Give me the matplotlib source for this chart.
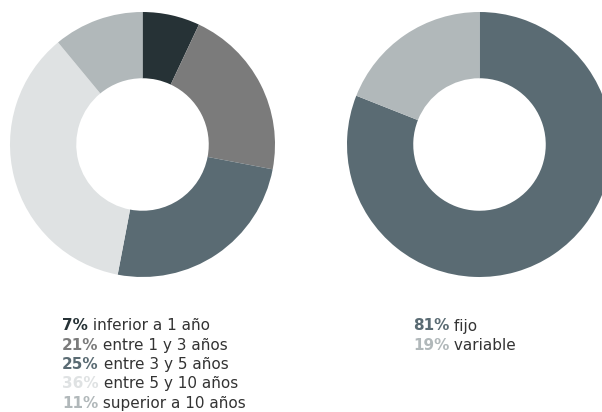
import matplotlib
matplotlib.use("Agg")
import matplotlib.pyplot as plt

# Plazo de la deuda
plazo_pct = [7, 21, 25, 36, 11]
plazo_labels = ["inferior a 1 año", "entre 1 y 3 años", "entre 3 y 5 años",
                "entre 5 y 10 años", "superior a 10 años"]
plazo_colors = ["#263236", "#7b7b7b", "#5a6b73", "#dfe2e3", "#b1b8ba"]

# Tipo de interés
tipo_pct = [81, 19]
tipo_labels = ["fijo", "variable"]
tipo_colors = ["#5a6b73", "#b1b8ba"]

W, H = 602, 412
fig = plt.figure(figsize=(W / 100, H / 100), dpi=100)


def donut(x0, y0, size, values, colors):
    # x0, y0 = pixel position of the top-left corner of the donut box
    ax = fig.add_axes([x0 / W, (H - y0 - size) / H, size / W, size / H])
    ax.pie(values, colors=colors, startangle=90, counterclock=False,
           radius=1, wedgeprops=dict(width=0.5, linewidth=0))
    ax.set_xlim(-1, 1)
    ax.set_ylim(-1, 1)
    ax.set_aspect("equal")
    ax.axis("off")


donut(10, 12, 265, plazo_pct, plazo_colors)
donut(347, 12, 265, tipo_pct, tipo_colors)


def legend(x, y, values, labels, colors, step=19.3):
    for i, (v, lab, c) in enumerate(zip(values, labels, colors)):
        t = fig.text(x / W, 1 - (y + i * step) / H, f"{v}%", color=c,
                     fontsize=11, fontweight="bold", va="center", ha="left")
        plt.annotate(" " + lab, xy=(1, 0.5), xycoords=t, va="center",
                     ha="left", fontsize=11, color="#333333",
                     annotation_clip=False)


legend(62, 326, plazo_pct, plazo_labels, plazo_colors)
legend(413, 326, tipo_pct, tipo_labels, tipo_colors)

fig.savefig("out.png", dpi=100, facecolor="white")
